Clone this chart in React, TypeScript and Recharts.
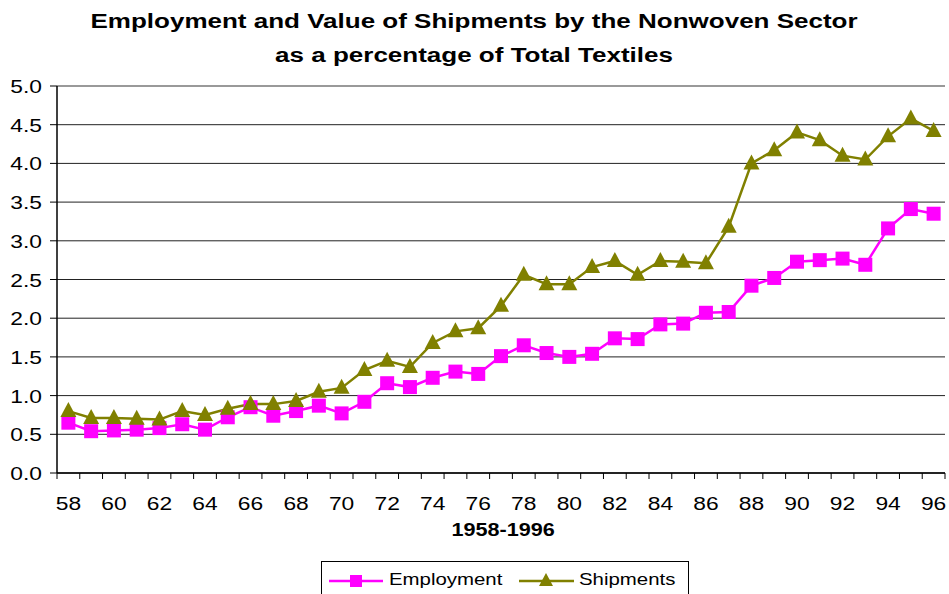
import React from 'react';
import {
  LineChart,
  Line,
  XAxis,
  YAxis,
  CartesianGrid,
  ReferenceLine,
} from 'recharts';

const years = [
  '58', '59', '60', '61', '62', '63', '64', '65', '66', '67',
  '68', '69', '70', '71', '72', '73', '74', '75', '76', '77',
  '78', '79', '80', '81', '82', '83', '84', '85', '86', '87',
  '88', '89', '90', '91', '92', '93', '94', '95', '96',
];

const employment = [
  0.65, 0.54, 0.55, 0.56, 0.58, 0.63, 0.56, 0.72, 0.85, 0.74,
  0.8, 0.87, 0.77, 0.92, 1.16, 1.11, 1.23, 1.31, 1.28, 1.51,
  1.65, 1.55, 1.5, 1.54, 1.74, 1.73, 1.92, 1.93, 2.07, 2.08,
  2.42, 2.52, 2.73, 2.75, 2.77, 2.69, 3.16, 3.41, 3.35,
];

const shipments = [
  0.8, 0.71, 0.71, 0.7, 0.69, 0.8, 0.75, 0.83, 0.89, 0.89,
  0.93, 1.05, 1.1, 1.33, 1.45, 1.37, 1.68, 1.83, 1.87, 2.16,
  2.56, 2.44, 2.44, 2.66, 2.74, 2.56, 2.74, 2.73, 2.71, 3.18,
  4.0, 4.17, 4.4, 4.3, 4.1, 4.05, 4.35, 4.58, 4.42,
];

const yTicks = [0, 0.5, 1, 1.5, 2, 2.5, 3, 3.5, 4, 4.5, 5];

const data = years.map((year, i) => ({
  year,
  employment: employment[i],
  shipments: shipments[i],
}));

const FONT = '"Liberation Sans", Arial, sans-serif';
const SX = 1.2; // the source text is stretched sideways
const PLOT_LEFT = 57;
const PLOT_RIGHT = 945;
const PLOT_BOTTOM = 473;
const BAND = (PLOT_RIGHT - PLOT_LEFT) / years.length;

const MAGENTA = '#FF00FF';
const OLIVE = '#808000';

const XTick = ({ x, payload, index }: any) => {
  const left = x - BAND / 2;
  const even = Number(payload.value) % 2 === 0;
  return (
    <g>
      <line x1={left} x2={left} y1={PLOT_BOTTOM} y2={PLOT_BOTTOM + 6} stroke="#000" />
      {index === years.length - 1 && (
        <line x1={x + BAND / 2} x2={x + BAND / 2} y1={PLOT_BOTTOM} y2={PLOT_BOTTOM + 6} stroke="#000" />
      )}
      {even && (
        <text
          transform={`translate(${x},510) scale(${SX},1)`}
          textAnchor="middle"
          fontFamily={FONT}
          fontSize={19}
          fill="#000"
        >
          {payload.value}
        </text>
      )}
    </g>
  );
};

const YTick = ({ x, y, payload }: any) => (
  <text
    transform={`translate(${x},${y + 7}) scale(${SX},1)`}
    textAnchor="end"
    fontFamily={FONT}
    fontSize={19}
    fill="#000"
  >
    {payload.value.toFixed(1)}
  </text>
);

const SquareDot = ({ cx, cy }: any) => (
  <rect x={cx - 7} y={cy - 7} width={14} height={14} fill={MAGENTA} />
);

const TriangleDot = ({ cx, cy }: any) => (
  <polygon
    points={`${cx},${cy - 9} ${cx + 8},${cy + 6} ${cx - 8},${cy + 6}`}
    fill={OLIVE}
  />
);

const stretched = (extra: React.CSSProperties = {}): React.CSSProperties => ({
  display: 'inline-block',
  transform: `scaleX(${SX})`,
  ...extra,
});

export default function App() {
  return (
    <div
      style={{
        position: 'absolute',
        left: 0,
        top: 0,
        width: 949,
        height: 594,
        background: '#fff',
        fontFamily: FONT,
        overflow: 'hidden',
      }}
    >
      <div
        style={{
          position: 'absolute',
          left: 0,
          top: 4,
          width: 949,
          textAlign: 'center',
          fontWeight: 'bold',
          fontSize: 20,
          lineHeight: '34px',
          color: '#000',
        }}
      >
        <div>
          <span style={stretched({ transform: 'scaleX(1.3)' })}>
            Employment and Value of Shipments by the Nonwoven Sector
          </span>
        </div>
        <div>
          <span style={stretched({ transform: 'scaleX(1.3)' })}>
            as a percentage of Total Textiles
          </span>
        </div>
      </div>

      <div style={{ position: 'absolute', left: 0, top: 0 }}>
        <LineChart
          width={949}
          height={594}
          data={data}
          margin={{ top: 86, right: 4, left: 8, bottom: 81 }}
        >
          <CartesianGrid horizontal vertical={false} stroke="#222" />
          <XAxis
            dataKey="year"
            scale="band"
            interval={0}
            height={40}
            tickLine={false}
            axisLine={{ stroke: '#000', strokeWidth: 1.5 }}
            tick={<XTick />}
          />
          <YAxis
            domain={[0, 5]}
            ticks={yTicks}
            width={49}
            tickSize={7}
            tickMargin={8}
            tickLine={{ stroke: '#000' }}
            axisLine={{ stroke: '#000', strokeWidth: 1.5 }}
            tick={<YTick />}
          />
          <YAxis
            yAxisId="border"
            orientation="right"
            domain={[0, 5]}
            width={0}
            tick={false}
            tickLine={false}
            axisLine={{ stroke: '#999', strokeWidth: 2 }}
          />
          <ReferenceLine y={5} stroke="#999" strokeWidth={2} />
          <Line
            type="linear"
            dataKey="employment"
            stroke={MAGENTA}
            strokeWidth={2.5}
            dot={<SquareDot />}
            isAnimationActive={false}
          />
          <Line
            type="linear"
            dataKey="shipments"
            stroke={OLIVE}
            strokeWidth={2.5}
            dot={<TriangleDot />}
            isAnimationActive={false}
          />
        </LineChart>
      </div>

      <div
        style={{
          position: 'absolute',
          left: 403,
          width: 200,
          top: 517,
          textAlign: 'center',
          fontWeight: 'bold',
          fontSize: 18,
          lineHeight: '26px',
        }}
      >
        <span style={stretched()}>1958-1996</span>
      </div>

      <div
        style={{
          position: 'absolute',
          left: 321,
          top: 561,
          width: 368,
          height: 40,
          border: '1px solid #000',
          boxSizing: 'border-box',
        }}
      >
        <svg width={368} height={40} style={{ position: 'absolute', left: 0, top: 0 }}>
          <line x1={7} x2={61} y1={19} y2={19} stroke={MAGENTA} strokeWidth={2.5} />
          <rect x={28} y={13} width={12} height={12} fill={MAGENTA} />
          <line x1={197} x2={252} y1={19} y2={19} stroke={OLIVE} strokeWidth={2.5} />
          <polygon points="224,11 231,24 217,24" fill={OLIVE} />
        </svg>
        <div
          style={{
            position: 'absolute',
            left: 67,
            top: 6,
            fontSize: 17,
            lineHeight: '24px',
            transformOrigin: 'left center',
            transform: `scaleX(${SX})`,
          }}
        >
          Employment
        </div>
        <div
          style={{
            position: 'absolute',
            left: 257,
            top: 6,
            fontSize: 17,
            lineHeight: '24px',
            transformOrigin: 'left center',
            transform: `scaleX(${SX})`,
          }}
        >
          Shipments
        </div>
      </div>
    </div>
  );
}
